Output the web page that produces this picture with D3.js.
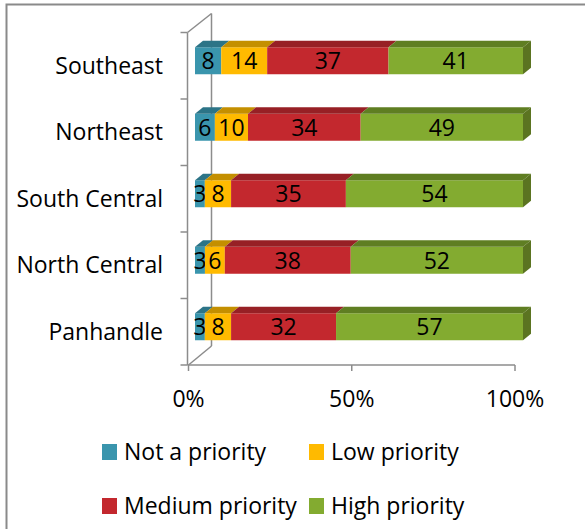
<!DOCTYPE html>
<html><head><meta charset="utf-8">
<script src="https://cdn.jsdelivr.net/npm/d3@7"></script>
<style>body{margin:0;background:#fff}svg{display:block}text{font-family:"Open Sans",sans-serif;fill:#000}</style>
</head><body>
<svg id="c" width="585" height="529"></svg>
<script>
const regions = ["Southeast","Northeast","South Central","North Central","Panhandle"];
const seriesNames = ["Not a priority","Low priority","Medium priority","High priority"];
const notPriority = [8,6,3,3,3];
const lowPriority = [14,10,8,6,8];
const mediumPriority = [37,34,35,38,32];
const highPriority = [41,49,54,52,57];
const xTicks = [0,0.5,1];
const colors = ["#3A95AD","#FFBA00","#C3282E","#83AB30"];
const topColors = ["#2C7487","#C48F00","#972025","#5F7E22"];
const sideColors = ["#2C7487","#C48F00","#972025","#5B7421"];

const series = [notPriority,lowPriority,mediumPriority,highPriority];
const svg = d3.select("#c");

// frame
svg.append("rect").attr("x",6.5).attr("y",4.5).attr("width",700).attr("height",700)
  .attr("fill","none").attr("stroke","#8a8a8a").attr("stroke-width",2);

const ax0 = 188.5, ax1 = 515;
const xAxis = d3.scaleLinear().domain([0,1]).range([ax0, ax1]);
const y = d3.scaleBand().domain(regions).range([32.5, 365]).padding(0);
const wallDx = 23, wallDy = -19;
const bdx = 8, bdy = -6.5, barOffX = 6.5, barOffY = -5, barH = 27;
const xBar = d3.scaleLinear().domain([0,1]).range([ax0+barOffX, ax1+barOffX+1.5]);

const axisColor = "#8c8c8c";
const g = svg.append("g");
const yTop = y.range()[0], yBot = y.range()[1];
g.append("line").attr("x1",ax0+wallDx).attr("x2",ax0+wallDx).attr("y1",yTop+wallDy).attr("y2",yBot+wallDy)
  .attr("stroke",axisColor).attr("stroke-width",1.5);
g.append("line").attr("x1",ax0-1).attr("x2",ax0-1).attr("y1",yTop).attr("y2",yBot)
  .attr("stroke",axisColor).attr("stroke-width",1.5);
g.append("line").attr("x1",ax0-1).attr("x2",ax0+wallDx).attr("y1",yTop).attr("y2",yTop+wallDy)
  .attr("stroke",axisColor).attr("stroke-width",1.5);
g.append("line").attr("x1",ax0).attr("x2",ax0+wallDx).attr("y1",yBot).attr("y2",yBot+wallDy)
  .attr("stroke",axisColor).attr("stroke-width",1.5);
const bounds = regions.map(r=>y(r)).concat([yBot]);
g.selectAll(".ct").data(bounds).enter().append("line")
  .attr("x1",ax0-8).attr("x2",ax0-1).attr("y1",d=>d).attr("y2",d=>d)
  .attr("stroke",axisColor).attr("stroke-width",1.5);
g.append("line").attr("x1",ax0-1).attr("x2",ax1).attr("y1",yBot).attr("y2",yBot)
  .attr("stroke",axisColor).attr("stroke-width",1.5);
g.selectAll(".xt").data(xTicks).enter().append("line")
  .attr("x1",d=>xAxis(d)).attr("x2",d=>xAxis(d)).attr("y1",yBot).attr("y2",yBot+6)
  .attr("stroke",axisColor).attr("stroke-width",1.5);
g.selectAll(".xl").data(xTicks).enter().append("text")
  .attr("x",d=>xAxis(d)).attr("y",yBot+42).attr("text-anchor","middle")
  .attr("font-size",23).text(d=>d3.format(".0%")(d));
g.selectAll(".cl").data(regions).enter().append("text")
  .attr("x",163).attr("y",d=>y(d)+y.bandwidth()/2).attr("dy","0.35em")
  .attr("text-anchor","end").attr("font-size",23).text(d=>d);

regions.forEach((r,i)=>{
  const vals = series.map(s=>s[i]);
  const tot = d3.sum(vals);
  let cum = 0;
  const yc = y(r)+y.bandwidth()/2 + barOffY;
  const y0 = yc - barH/2;
  const bg = svg.append("g");
  vals.forEach((v,j)=>{
    const a = xBar(cum/tot), b = xBar((cum+v)/tot);
    cum += v;
    bg.append("rect").attr("x",a).attr("y",y0).attr("width",b-a).attr("height",barH).attr("fill",colors[j]);
    bg.append("path").attr("d",`M${a},${y0}L${a+bdx},${y0+bdy}L${b+bdx},${y0+bdy}L${b},${y0}Z`).attr("fill",topColors[j]);
    if(j===vals.length-1){
      bg.append("path").attr("d",`M${b},${y0}L${b+bdx},${y0+bdy}L${b+bdx},${y0+bdy+barH}L${b},${y0+barH}Z`).attr("fill",sideColors[j]);
    }
    bg.append("text").attr("x",(a+b)/2).attr("y",y0+barH/2).attr("dy","0.36em")
      .attr("text-anchor","middle").attr("font-size",23).text(v);
  });
});

const legPos = [[102,452],[309,452],[102,506],[309,506]];
seriesNames.forEach((n,j)=>{
  const [lx,ly] = legPos[j];
  svg.append("rect").attr("x",lx).attr("y",ly-8).attr("width",15).attr("height",16).attr("fill",colors[j]);
  svg.append("text").attr("x",lx+22).attr("y",ly).attr("dy","0.35em").attr("font-size",23).text(n);
});
</script>
</body></html>
